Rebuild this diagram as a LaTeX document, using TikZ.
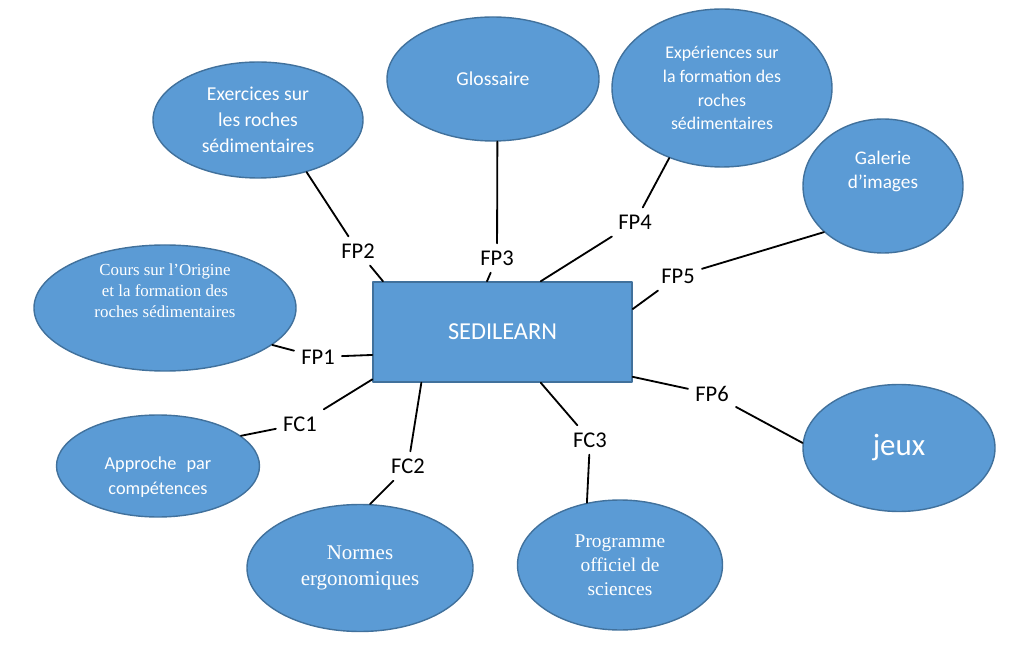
\documentclass[tikz,border=0pt]{standalone}
\usepackage{fontspec}
\setmainfont{Carlito}
\newfontfamily\tnr{Liberation Serif}
\usetikzlibrary{shapes.geometric}
\definecolor{bleu}{HTML}{5B9BD5}
\definecolor{bord}{HTML}{41719C}
\tikzset{
  bulle/.style 2 args={ellipse, draw=bord, line width=1pt, fill=bleu, text=white,
    align=center, inner sep=0pt, minimum width=#1*0.025cm, minimum height=#2*0.025cm,
    font=\fontsize{14}{18.5}\selectfont},
  lien/.style={font=\fontsize{16}{18}\selectfont, inner sep=5pt},
  trait/.style={line width=1.3pt}
}
\begin{document}
\begin{tikzpicture}[x=0.025cm, y=-0.025cm, line join=round, line cap=round]
            \useasboundingbox (0,0) rectangle (1012,648);
            % bloc central
            \node[rectangle, draw=bord, line width=1pt, fill=bleu, text=white, minimum width=259*0.025cm,
                  minimum height=100*0.025cm, font=\fontsize{17.3}{19}\selectfont] (sedi) at (502.5,332) {SEDILEARN};
            % bulles
            \node[bulle={210}{116}] (exo) at (258,120) {Exercices sur\\les roches\\sédimentaires};
            \node[bulle={212}{124}] (glos) at (493,79) {Glossaire};
            \node[bulle={220}{158}, font=\fontsize{12.7}{17}\selectfont] (expe) at (722,88) {Expériences sur\\la formation des\\roches\\sédimentaires};
            \node[bulle={160}{134}, font=\fontsize{13.7}{17}\selectfont] (gal) at (883,186) {Galerie\\d’images\\[6pt]};
            \node[bulle={262}{126}, font=\tnr\fontsize{12}{15}\selectfont] (cours) at (165,308) {Cours sur l’Origine\\et la formation des\\roches sédimentaires\\[10pt]};
            \node[bulle={203}{102}, font=\fontsize{13}{17.5}\selectfont] (appr) at (158,466) {\mbox{}\\[7pt]Approche\hspace{0.55em}par\\compétences};
            \node[bulle={226}{127}, font=\tnr\fontsize{14.9}{18}\selectfont] (norm) at (360,568) {Normes\\ergonomiques};
            \node[bulle={205}{130}, font=\tnr\fontsize{13.8}{17}\selectfont] (prog) at (620,565) {Programme\\officiel de\\sciences};
            \node[bulle={192}{127}, font=\fontsize{22}{24}\selectfont] (jeux) at (899,448) {jeux};
            % etiquettes
            \node[lien] (fp1) at (318,357) {FP1};
            \node[lien] (fp2) at (358,251) {FP2};
            \node[lien] (fp3) at (497,258) {FP3};
            \node[lien] (fp4) at (635,222) {FP4};
            \node[lien] (fp5) at (678,276) {FP5};
            \node[lien] (fp6) at (712,394) {FP6};
            \node[lien] (fc1) at (300,424) {FC1};
            \node[lien] (fc2) at (408,466) {FC2};
            \node[lien] (fc3) at (590,440) {FC3};
            % liaisons
            \draw[trait] (sedi.-170) -- (fp1);\draw[trait] (fp1) -- (cours.-19);
            \draw[trait] (sedi.157) -- (fp2);\draw[trait] (fp2) -- (exo.-47);
            \draw[trait] (sedi.107) -- (fp3);\draw[trait] (fp3) -- (glos.-86);
            \draw[trait] (sedi.53) -- (fp4);\draw[trait] (fp4) -- (expe.-127);
            \draw[trait] (sedi.10) -- (fp5);\draw[trait] (fp5) -- (gal.-142);
            \draw[trait] (sedi.-19) -- (fp6);\draw[trait] (fp6) -- (jeux.177);
            \draw[trait] (sedi.-160) -- (fc1);\draw[trait] (fc1) -- (appr.20);
            \draw[trait] (sedi.-148) -- (fc2);\draw[trait] (fc2) -- (norm.81);
            \draw[trait] (sedi.-53) -- (fc3);\draw[trait] (fc3) -- (prog.118);
        \end{tikzpicture}
\end{document}
